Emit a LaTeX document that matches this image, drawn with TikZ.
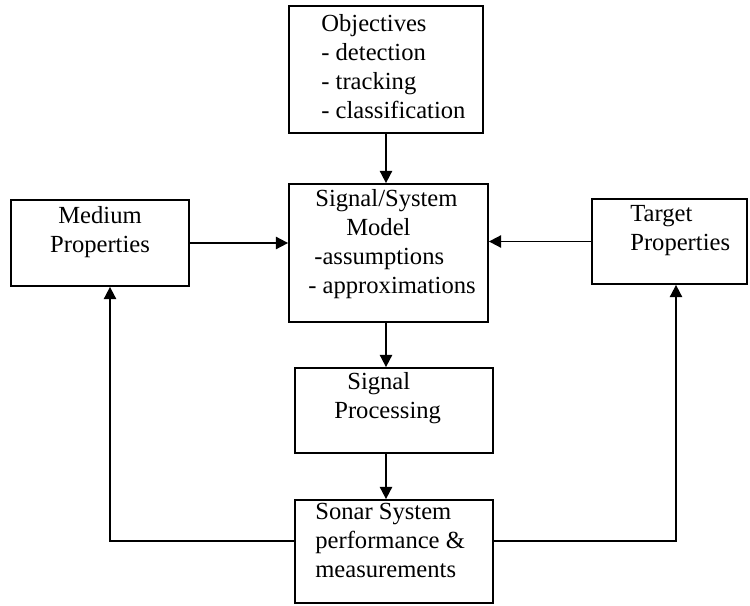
\documentclass[tikz,border=0pt]{standalone}
\usepackage{fontspec}
\setmainfont{Liberation Serif}
\usetikzlibrary{arrows.meta,fit,positioning}

\tikzset{
  block/.style={draw, line width=1pt, inner sep=0pt},
  blocktext/.style={inner sep=0pt, font=\fontsize{14}{16.5}\selectfont},
  arr/.style={line width=1pt, -{Triangle[length=7pt,width=7pt]}}
}

\begin{document}
\begin{tikzpicture}[x=0.02cm, y=-0.02cm]
  \useasboundingbox (0,0) rectangle (750,605);
  \node[block, fit={(289,6) (483,133)}] (obj) {};
  \node[block, fit={(289,184) (488,322)}] (model) {};
  \node[block, fit={(11,200) (189,286)}] (med) {};
  \node[block, fit={(592,199) (747,284)}] (tgt) {};
  \node[block, fit={(295,368) (493,453)}] (sp) {};
  \node[block, fit={(295,500) (493,603)}] (sonar) {};

  \node[blocktext, anchor=north west, align=left] (objtxt) at (321,14)
    {Objectives\\- detection\\- tracking\\- classification};
  \node[blocktext, anchor=north, align=center] (medtxt) at (100,206)
    {Medium\\Properties};
  \node[blocktext, anchor=north west, align=left] (tgttxt) at (630,205)
    {Target\\Properties};
  \node[blocktext, anchor=north west, align=left] (modeltxt) at (308,189)
    {\hspace*{4pt}Signal/System\\\hspace*{21.6pt}Model\\\hspace*{3.4pt}-assumptions\\- approximations};
  \node[blocktext, anchor=north west, align=left] (sptxt) at (334,372)
    {\hspace*{7.4pt}Signal\\Processing};
  \node[blocktext, anchor=north west, align=left] (sonartxt) at (315,503)
    {Sonar System\\performance \&\\measurements};

  \coordinate (axis) at (386,0);
  \foreach \a/\b in {obj/model, model/sp, sp/sonar}
    \draw[arr] (axis |- \a.south) -- (axis |- \b.north);
  \draw[arr] (med.east) -- (med.east -| model.west);
  \draw[arr] (tgt.west) -- (tgt.west -| model.east);
  \coordinate (lbend) at (110,541);
  \coordinate (rbend) at (676,541);
  \draw[arr] (sonar.west |- lbend) -- (lbend) -- (lbend |- med.south);
  \draw[arr] (sonar.east |- rbend) -- (rbend) -- (rbend |- tgt.south);
\end{tikzpicture}
\end{document}
